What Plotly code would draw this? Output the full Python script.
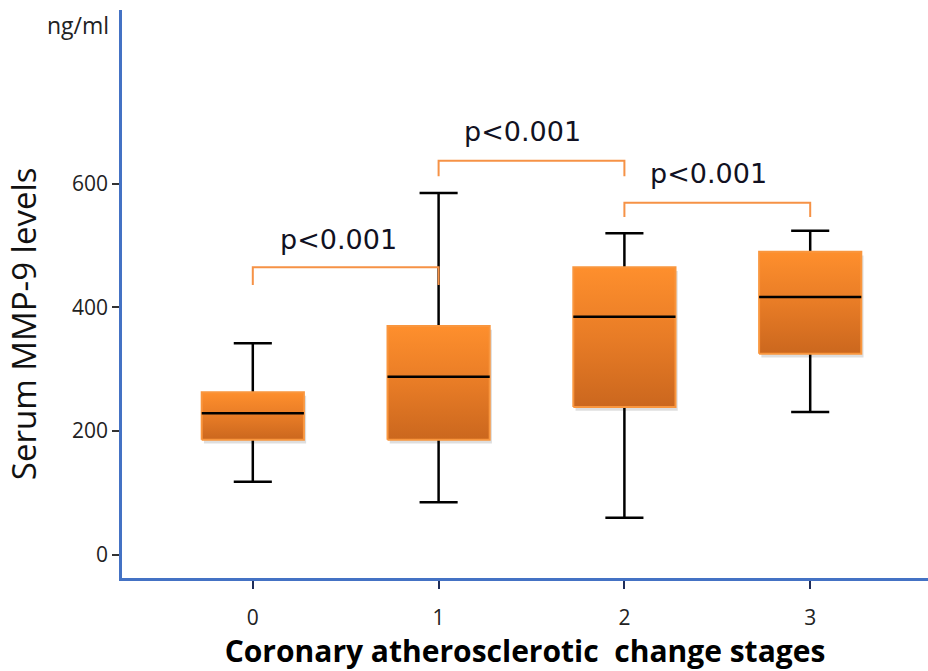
import plotly.graph_objects as go

# ---- data ----
stages = [0, 1, 2, 3]
stage_labels = ["0", "1", "2", "3"]
q1 = [186, 186, 239, 325]
median = [229, 288, 385, 417]
q3 = [263, 370, 465, 490]
lower_fence = [118, 85, 60, 231]
upper_fence = [342, 585, 520, 524]

y_ticks = [0, 200, 400, 600]

# significance brackets: (from stage, to stage, bar height, end height)
comp_from = [0, 1, 2]
comp_to = [1, 2, 3]
comp_bar = [465, 637, 569]
comp_end = [436, 612, 546]
comp_text = ["p<0.001", "p<0.001", "p<0.001"]
comp_label_x = [0.46, 1.454, 2.454]
comp_label_y = [509, 685, 617]

# ---- style ----
BOX_W = 0.55
CAP_W = 0.205
ORANGE_LINE = "rgb(249,150,62)"
BRACKET = "rgb(246,146,70)"
AXIS_BLUE = "rgb(68,114,196)"

fig = go.Figure()

# whiskers + caps
wx, wy = [], []
for i, s in enumerate(stages):
    wx += [s, s, None, s - CAP_W / 2, s + CAP_W / 2, None,
           s, s, None, s - CAP_W / 2, s + CAP_W / 2, None]
    wy += [q3[i], upper_fence[i], None, upper_fence[i], upper_fence[i], None,
           q1[i], lower_fence[i], None, lower_fence[i], lower_fence[i], None]
fig.add_trace(go.Scatter(x=wx, y=wy, mode="lines",
                         line=dict(color="black", width=2.5),
                         showlegend=False, hoverinfo="skip"))

# soft shadow + gradient-filled box bodies
for i, s in enumerate(stages):
    fig.add_trace(go.Scatter(
        x=[s - BOX_W / 2 + 0.012, s + BOX_W / 2 + 0.012, s + BOX_W / 2 + 0.012,
           s - BOX_W / 2 + 0.012, s - BOX_W / 2 + 0.012],
        y=[q1[i] - 6, q1[i] - 6, q3[i] - 6, q3[i] - 6, q1[i] - 6],
        mode="lines", fill="toself", fillcolor="rgba(0,0,0,0.13)",
        line=dict(width=0, color="rgba(0,0,0,0)"),
        showlegend=False, hoverinfo="skip",
    ))
    fig.add_trace(go.Scatter(
        x=[s - BOX_W / 2, s + BOX_W / 2, s + BOX_W / 2, s - BOX_W / 2, s - BOX_W / 2],
        y=[q1[i], q1[i], q3[i], q3[i], q1[i]],
        mode="lines", fill="toself",
        fillgradient=dict(type="vertical",
                          colorscale=[[0, "rgb(203,103,30)"],
                                      [0.5, "rgb(232,124,38)"],
                                      [1, "rgb(254,143,45)"]]),
        line=dict(color=ORANGE_LINE, width=2),
        showlegend=False, hoverinfo="skip",
    ))

# medians
mx, my = [], []
for i, s in enumerate(stages):
    mx += [s - BOX_W / 2, s + BOX_W / 2, None]
    my += [median[i], median[i], None]
fig.add_trace(go.Scatter(x=mx, y=my, mode="lines",
                         line=dict(color="black", width=2.5),
                         showlegend=False, hoverinfo="skip"))

# significance brackets
bx, by = [], []
for a, b, h, e in zip(comp_from, comp_to, comp_bar, comp_end):
    bx += [a, a, b, b, None]
    by += [e, h, h, e, None]
fig.add_trace(go.Scatter(x=bx, y=by, mode="lines",
                         line=dict(color=BRACKET, width=2),
                         showlegend=False, hoverinfo="skip"))

for t, lx, ly in zip(comp_text, comp_label_x, comp_label_y):
    fig.add_annotation(x=lx, y=ly, text=t, showarrow=False,
                       font=dict(family="DejaVu Sans", size=27, color="#111122"),
                       xanchor="center", yanchor="middle")

# unit label and y title
fig.add_annotation(xref="paper", yref="paper", x=-0.014, y=0.974, text="ng/ml",
                   showarrow=False, xanchor="right", yanchor="middle",
                   font=dict(family="Open Sans", size=23, color="#222222"))
fig.add_annotation(xref="paper", yref="paper", x=-0.1228, y=0.447,
                   text="Serum MMP-9 levels", textangle=-90, showarrow=False,
                   xanchor="center", yanchor="middle",
                   font=dict(family="Open Sans", size=33, color="#111111"))

fig.update_layout(
    width=928, height=671,
    margin=dict(l=122, r=0, t=10, b=93),
    paper_bgcolor="white", plot_bgcolor="white",
    showlegend=False,
    xaxis=dict(
        range=[-0.704, 3.634], tickmode="array", tickvals=stages, ticktext=stage_labels,
        ticks="outside", ticklen=8, tickwidth=2, tickcolor="#1f2d5a",
        showline=True, linecolor=AXIS_BLUE, linewidth=2.5,
        showgrid=False, zeroline=False, ticklabelstandoff=11,
        tickfont=dict(family="Open Sans", size=21, color="#222222"),
        title=dict(text="<b>Coronary atherosclerotic  change stages</b>",
                   font=dict(family="Open Sans", size=30, color="#000000"),
                   standoff=15),
    ),
    xaxis2=dict(
        range=[-0.704, 3.634], overlaying="x", anchor="y", side="bottom",
        tickmode="array", tickvals=stages, ticks="inside", ticklen=6, tickwidth=2,
        tickcolor="#1f2d5a", showticklabels=False, showline=False, showgrid=False,
        zeroline=False,
    ),
    yaxis=dict(
        range=[-37.5, 880.8], tickmode="array", tickvals=y_ticks,
        ticktext=[str(v) for v in y_ticks],
        ticks="outside", ticklen=7, tickwidth=1.5, tickcolor="#333333",
        showline=True, linecolor=AXIS_BLUE, linewidth=2.5,
        showgrid=False, zeroline=False,
        tickfont=dict(family="Open Sans", size=21, color="#222222"),
    ),
)

fig.write_html("out.html", config={"displayModeBar": False},
               post_script="document.body.style.margin='0px';")
